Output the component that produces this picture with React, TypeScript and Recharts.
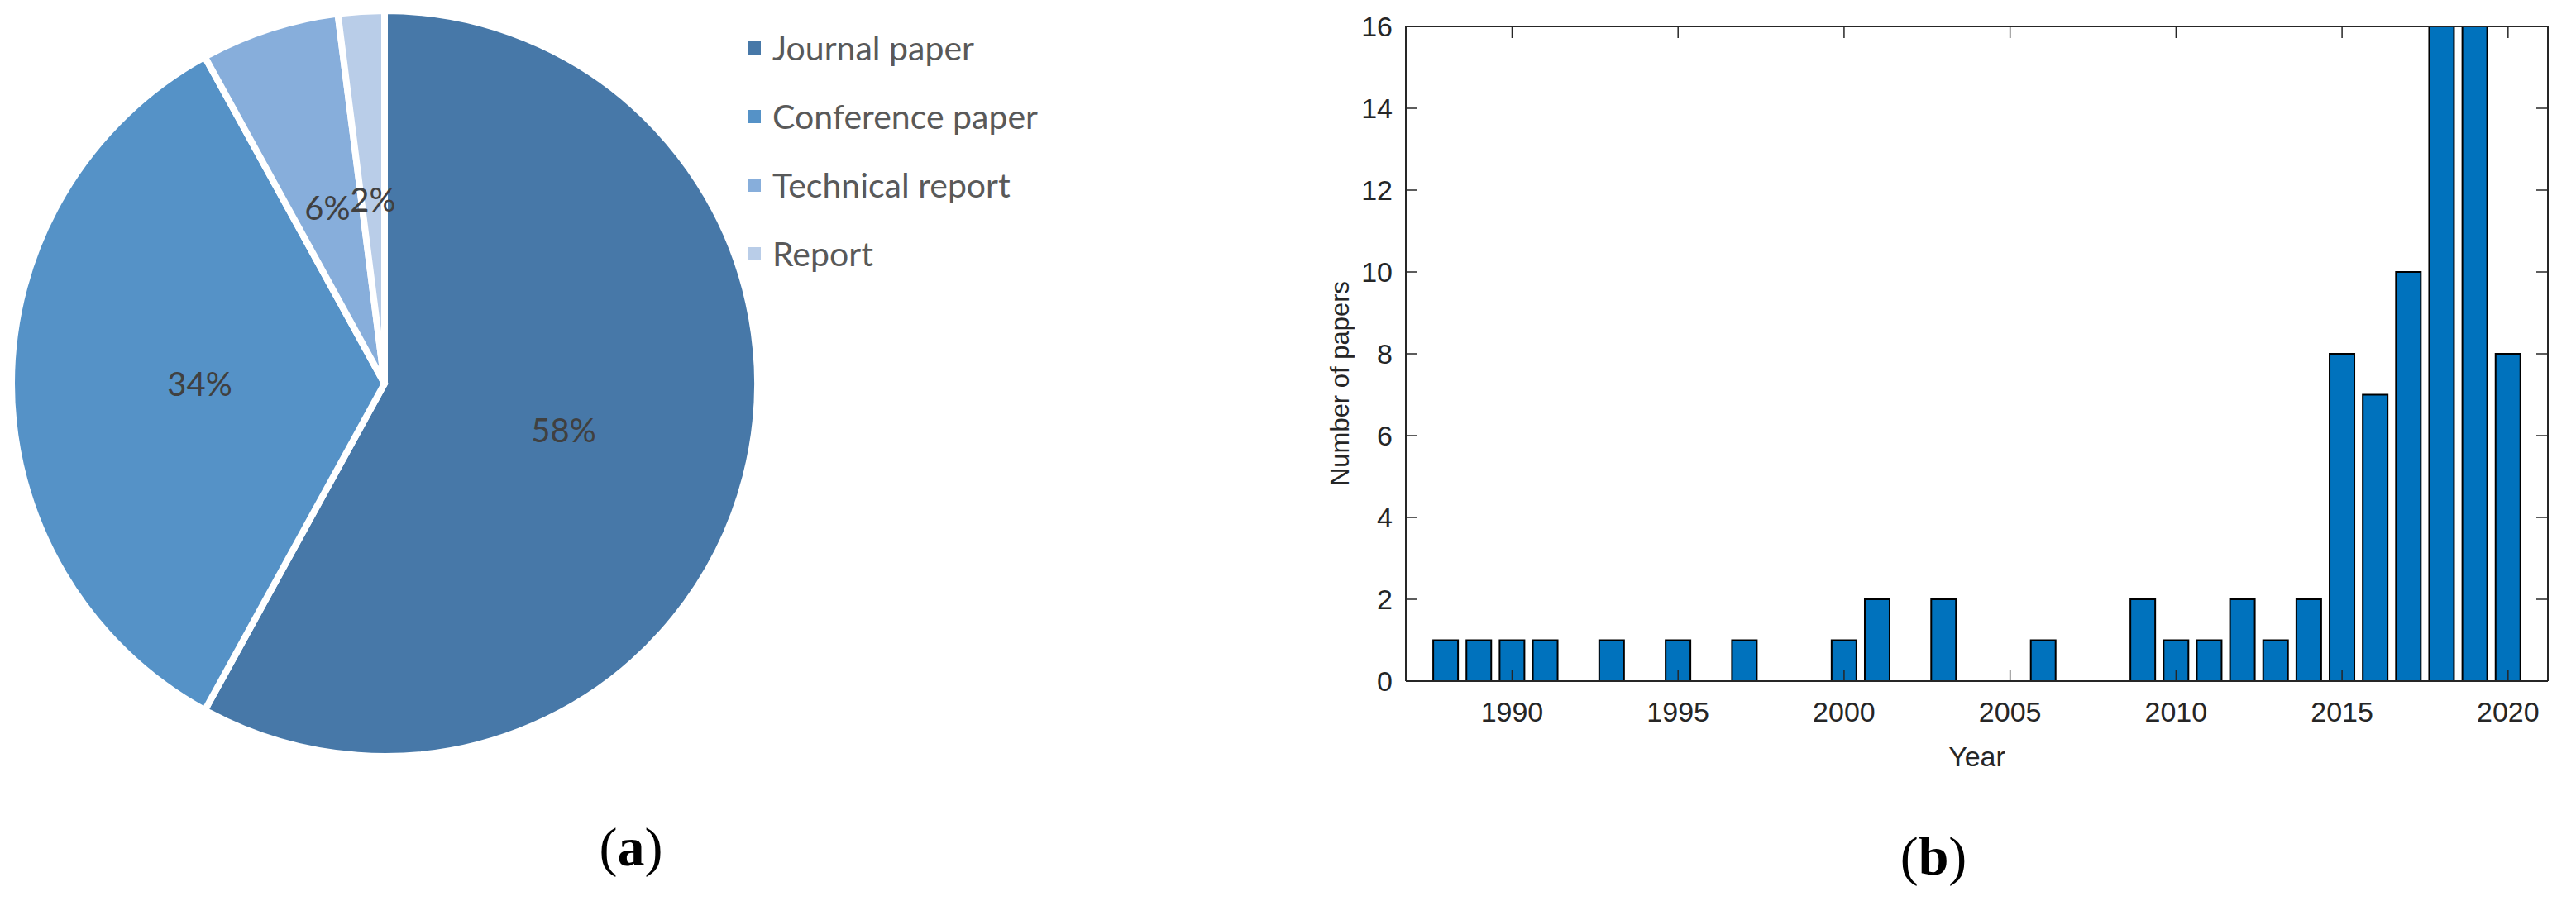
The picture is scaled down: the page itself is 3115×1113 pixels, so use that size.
import React from "react";
import { PieChart, Pie, Cell, Legend, BarChart, Bar, XAxis, YAxis, Label } from "recharts";

// (a) share of publication types
const pubTypes = ["Journal paper", "Conference paper", "Technical report", "Report"];
const pubShares = [58, 34, 6, 2];
const pubColors = ["#4778A8", "#5592C7", "#87AEDB", "#B9CDE8"];

// (b) papers per year
const years = [1988, 1989, 1990, 1991, 1993, 1995, 1997, 2000, 2001, 2003, 2006, 2009, 2010, 2011, 2012, 2013, 2014, 2015, 2016, 2017, 2018, 2019, 2020];
const paperCounts = [1, 1, 1, 1, 1, 1, 1, 1, 2, 2, 1, 2, 1, 1, 2, 1, 2, 8, 7, 10, 16, 16, 8];
const yearTicks = [1990, 1995, 2000, 2005, 2010, 2015, 2020];
const countTicks = [0, 2, 4, 6, 8, 10, 12, 14, 16];

const pieData = pubTypes.map((name, i) => ({ name, value: pubShares[i] }));
const barData = years.map((year, i) => ({ year, count: paperCounts[i] }));

const RAD = Math.PI / 180;
const AXIS = "#262626";
const TICK_LEN = 14;
const SLICE_GAP = 8;
const matlabFont = "'Liberation Sans', Arial, Helvetica, sans-serif";
const officeFont = "Lato, 'Open Sans', sans-serif";

function PieLabel(props: any) {
  const { cx, cy, midAngle, outerRadius, percent } = props;
  const r = (outerRadius - SLICE_GAP / 2) * 0.5;
  const x = cx + r * Math.cos(-midAngle * RAD);
  const y = cy + r * Math.sin(-midAngle * RAD);
  return (
    <text x={x} y={y} textAnchor="middle" dominantBaseline="central" fill="#404040" fontFamily={officeFont} fontSize={40}>
      {Math.round(percent * 100)}%
    </text>
  );
}

// legend keeps the data order (recharts sorts by name otherwise)
function PieLegend(props: any) {
  const payload = props.payload || [];
  return (
    <div>
      {pubTypes.map((name, i) => {
        const entry = payload.find((p: any) => p.value === name);
        return (
          <div key={name} style={{ display: "flex", alignItems: "center", height: 83 }}>
            <span style={{ display: "inline-block", width: 16, height: 16, marginRight: 14, background: pubColors[i] ?? entry?.color }} />
            <span style={{ fontFamily: officeFont, fontSize: 41, color: "#595959", whiteSpace: "nowrap" }}>{entry ? entry.value : name}</span>
          </div>
        );
      })}
    </div>
  );
}

const BottomTick = ({ x, y, payload }: any) => (
  <g>
    <line x1={x} x2={x} y1={y} y2={y - TICK_LEN} stroke={AXIS} strokeWidth={1.5} />
    <text x={x} y={y + 49} textAnchor="middle" fontFamily={matlabFont} fontSize={34} fill={AXIS}>
      {payload.value}
    </text>
  </g>
);

const TopTick = ({ x, y }: any) => (
  <line x1={x} x2={x} y1={y} y2={y + TICK_LEN} stroke={AXIS} strokeWidth={1.5} />
);

const LeftTick = ({ x, y, payload }: any) => (
  <g>
    <line x1={x} x2={x + TICK_LEN} y1={y} y2={y} stroke={AXIS} strokeWidth={1.5} />
    <text x={x - 16} y={y} dy="0.36em" textAnchor="end" fontFamily={matlabFont} fontSize={34} fill={AXIS}>
      {payload.value}
    </text>
  </g>
);

const RightTick = ({ x, y }: any) => (
  <line x1={x} x2={x - TICK_LEN} y1={y} y2={y} stroke={AXIS} strokeWidth={1.5} />
);

const YLabel = ({ viewBox }: any) => {
  const x = viewBox.x + 40;
  const y = viewBox.y + viewBox.height / 2 + 36;
  return (
    <text x={x} y={y} transform={`rotate(-90, ${x}, ${y})`} textAnchor="middle" dy="0.36em" fontFamily={matlabFont} fontSize={31} fill={AXIS}>
      Number of papers
    </text>
  );
};

const axisLine = { stroke: AXIS, strokeWidth: 2 };
const xDomain: [number, number] = [1986.8, 2021.2];
const yDomain: [number, number] = [0, 16];

const caption: React.CSSProperties = {
  position: "absolute",
  transform: "translate(-50%, -50%)",
  fontFamily: "'Liberation Serif', 'Times New Roman', serif",
  fontSize: 66,
  color: "#000",
  whiteSpace: "nowrap",
};

export default function App() {
  return (
    <div style={{ position: "relative", width: 3115, height: 1113, background: "#fff", overflow: "hidden" }}>
      <style>{"body{margin:0}"}</style>

      <div style={{ position: "absolute", left: 0, top: 0 }}>
        <PieChart width={1560} height={1113} margin={{ top: 0, right: 0, bottom: 0, left: 0 }}>
          <Pie
            data={pieData}
            dataKey="value"
            nameKey="name"
            cx={465}
            cy={464}
            outerRadius={447 + SLICE_GAP / 2}
            startAngle={90}
            endAngle={-270}
            stroke="#ffffff"
            strokeWidth={SLICE_GAP}
            label={PieLabel}
            labelLine={false}
            isAnimationActive={false}
          >
            {pieData.map((d, i) => (
              <Cell key={d.name} fill={pubColors[i]} />
            ))}
          </Pie>
          <Legend
            layout="vertical"
            align="right"
            verticalAlign="top"
            content={PieLegend}
            wrapperStyle={{ left: 904, top: 16, right: "auto", width: "auto" }}
          />
        </PieChart>
      </div>

      <div style={{ position: "absolute", left: 1560, top: 0 }}>
        <BarChart width={1555} height={1113} data={barData} margin={{ top: 31, right: 33, bottom: 179, left: 20 }}>
          <XAxis
            type="number"
            dataKey="year"
            domain={xDomain}
            ticks={yearTicks}
            interval={0}
            allowDataOverflow
            height={110}
            tickSize={0}
            tickMargin={0}
            tickLine={false}
            axisLine={axisLine}
            tick={<BottomTick />}
          >
            <Label value="Year" position="insideTop" offset={79} style={{ fontFamily: matlabFont, fontSize: 34, fill: AXIS }} />
          </XAxis>
          <XAxis
            xAxisId="top"
            orientation="top"
            type="number"
            dataKey="year"
            domain={xDomain}
            ticks={yearTicks}
            interval={0}
            allowDataOverflow
            height={1}
            tickSize={0}
            tickMargin={0}
            tickLine={false}
            axisLine={axisLine}
            tick={<TopTick />}
          />
          <YAxis
            type="number"
            domain={yDomain}
            ticks={countTicks}
            interval={0}
            allowDataOverflow
            width={120}
            tickSize={0}
            tickMargin={0}
            tickLine={false}
            axisLine={axisLine}
            tick={<LeftTick />}
          >
            <Label content={YLabel} />
          </YAxis>
          <YAxis
            yAxisId="right"
            orientation="right"
            type="number"
            domain={yDomain}
            ticks={countTicks}
            interval={0}
            allowDataOverflow
            width={1}
            tickSize={0}
            tickMargin={0}
            tickLine={false}
            axisLine={axisLine}
            tick={<RightTick />}
          />
          <Bar dataKey="count" fill="#0072BD" stroke="#000000" strokeWidth={2} barSize={30} isAnimationActive={false} />
        </BarChart>
      </div>

      <div style={{ ...caption, left: 763, top: 1025 }}>
        (<b>a</b>)
      </div>
      <div style={{ ...caption, left: 2338, top: 1036 }}>
        (<b>b</b>)
      </div>
    </div>
  );
}
